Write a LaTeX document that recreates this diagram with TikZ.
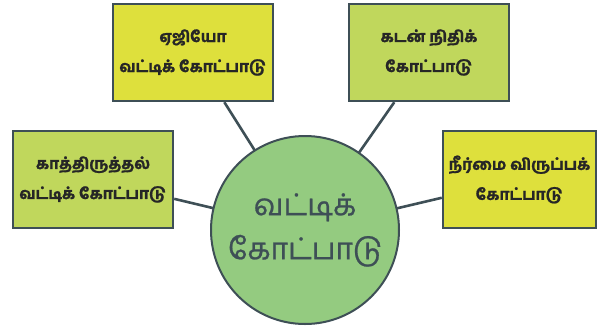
\documentclass[tikz,border=0pt]{standalone}
\usepackage{fontspec}
\newfontfamily\tamil[Script=Tamil,FakeBold=0.8]{Hind Madurai}
\newfontfamily\tamilb[Script=Tamil,FakeBold=1.2]{Hind Madurai Bold}
\definecolor{ybox}{HTML}{DEE03C}
\definecolor{gbox}{HTML}{C0D75C}
\definecolor{cfill}{HTML}{94CB80}
\definecolor{edge}{HTML}{3E4F56}
\tikzset{
  box/.style={draw=edge, line width=2.4pt, minimum width=160pt, minimum height=97pt, inner sep=0pt, align=center, font=\tamilb\fontsize{15.5}{30}\selectfont, text=black!85},
  link/.style={draw=edge, line width=2.6pt},
  hub/.style={circle, draw=edge, line width=2pt, fill=cfill, minimum size=188pt, inner sep=0pt, align=center, text=edge, font=\tamil\fontsize{30}{44}\selectfont}
}
\begin{document}
\begin{tikzpicture}[x=1pt,y=-1pt]
\useasboundingbox (0,0) rectangle (600,330);
\node[box, fill=ybox] (b1) at (193,52.5) {ஏஜியோ\\வட்டிக் கோட்பாடு};
\node[box, fill=gbox] (b2) at (429,52.5) {கடன் நிதிக்\\கோட்பாடு};
\node[box, fill=gbox] (b3) at (93,179.5) {காத்திருத்தல்\\வட்டிக் கோட்பாடு};
\node[box, fill=ybox, minimum width=153pt] (b4) at (519.5,179.5) {நீர்மை விருப்பக்\\கோட்பாடு};
\coordinate (cc) at (305,230);
\draw[link] (cc) -- (b1);
\draw[link] (cc) -- (b2);
\draw[link] (cc) -- (b3);
\draw[link] (cc) -- (b4);
\node[hub] (c) at (cc) {வட்டிக்\\கோட்பாடு};
\end{tikzpicture}
\end{document}
